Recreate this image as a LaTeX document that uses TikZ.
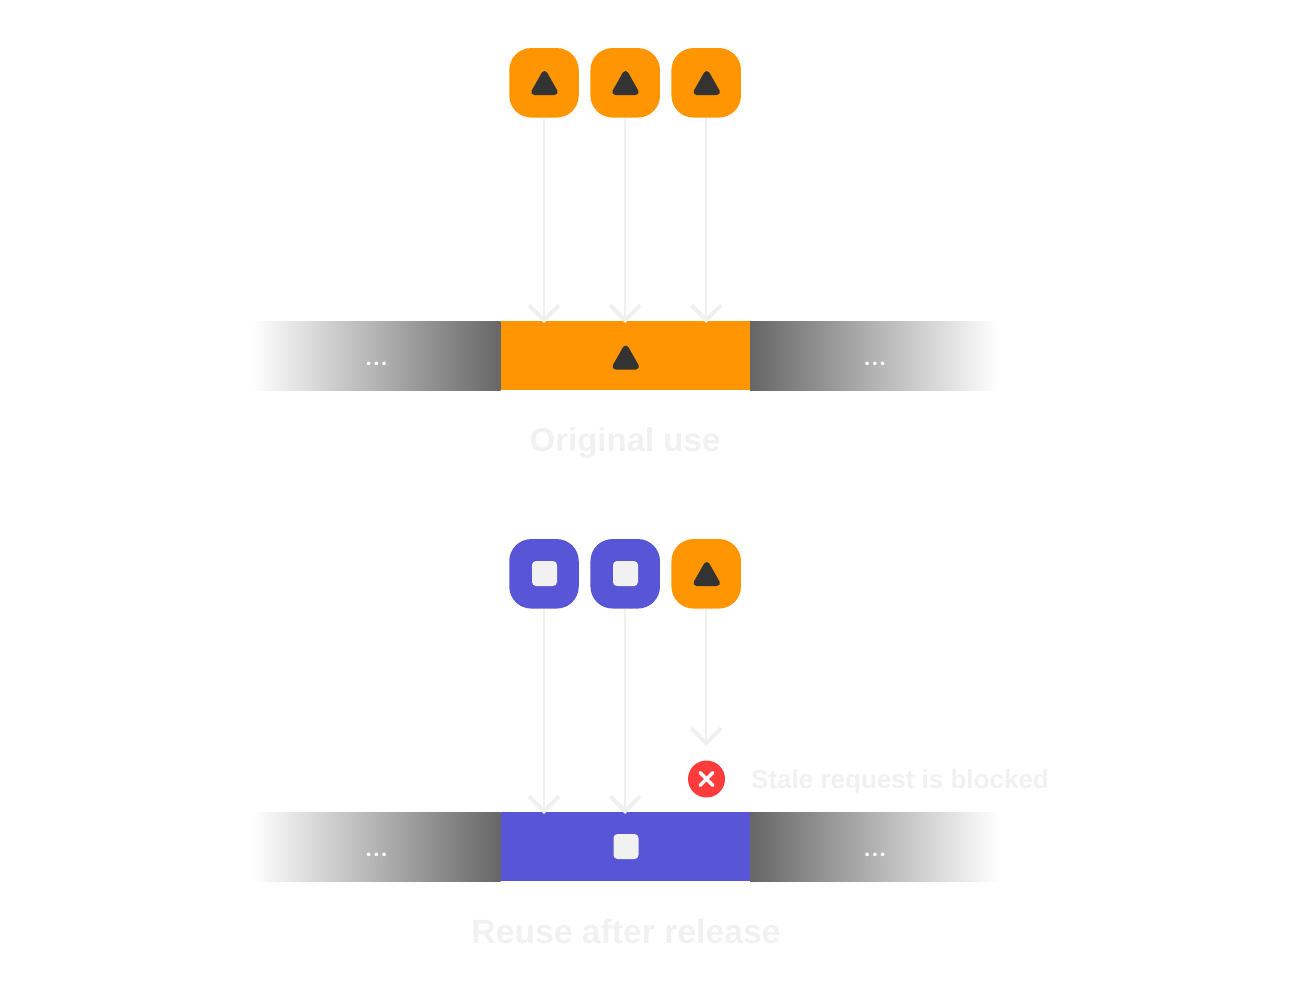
\documentclass[tikz,border=0pt]{standalone}
\usepackage{fontspec}
\setmainfont{Liberation Sans}
\newfontfamily\dotfont{Lato}
\usetikzlibrary{arrows.meta}
\definecolor{amber}{HTML}{FF9500}
\definecolor{indigo}{HTML}{5856D6}
\definecolor{ink}{HTML}{333333}
\definecolor{pale}{HTML}{F1F1F1}
\definecolor{fade}{HTML}{F0F0F0}
\definecolor{stop}{HTML}{FF3B3B}
\definecolor{edge}{HTML}{666666}
\tikzset{
  icon/.style={rectangle,rounded corners=22pt,minimum width=69.5pt,minimum height=69.5pt,inner sep=0pt,fill=#1},
  cell/.style={rectangle,minimum width=249.4pt,minimum height=69pt,inner sep=0pt,fill=#1},
  fadeleft/.style={rectangle,minimum width=248.7pt,minimum height=69pt,inner sep=0pt,shading=axis,left color=white,right color=edge},
  faderight/.style={rectangle,minimum width=248pt,minimum height=69pt,inner sep=0pt,shading=axis,left color=edge,right color=white},
  conn/.style={draw=fade,line width=2.4pt,-{Straight Barb[length=15pt,width=30pt,line width=4pt]}},
  tri/.style={fill=ink,draw=ink,line width=6pt,line join=round},
  sq/.style={rectangle,rounded corners=4pt,fill=pale,inner sep=0pt,minimum width=25pt,minimum height=25pt},
  dots/.style={text=white,font=\dotfont\bfseries\fontsize{24}{24}\selectfont,inner sep=0pt,anchor=base},
  capt/.style={text=pale,font=\bfseries\fontsize{#1}{36}\selectfont,inner sep=0pt},
  note/.style={text=pale,font=\bfseries\fontsize{26}{30}\selectfont,inner sep=0pt,anchor=west},
}
\newcommand{\triglyph}[2]{\path[tri] (#1,#2-9) -- (#1+10.2,#2+9) -- (#1-10.2,#2+9) -- cycle;}
\newcommand{\threedots}{.\kern2pt.\kern2pt.}
\begin{document}
\begin{tikzpicture}[x=1pt,y=-1pt]
\useasboundingbox (0,0) rectangle (1300,989);
% top row
\node[icon=amber] (a1) at (544,82.8) {};
\node[icon=amber] (a2) at (625.2,82.8) {};
\node[icon=amber] (a3) at (706.2,82.8) {};
\triglyph{544.5}{83}
\triglyph{625.5}{83}
\triglyph{706.7}{83}
\node[fadeleft] (la) at (376.3,355.7) {};
\node[faderight] (ra) at (874,355.7) {};
\node[cell=amber] (ma) at (625.3,355.7) {};
\triglyph{625.7}{357.5}
\node[dots] (da1) at (376.5,365) {\threedots};
\node[dots] (da2) at (875,365) {\threedots};
\coordinate (ta1) at (544,323);
\coordinate (ta2) at (625.2,323);
\coordinate (ta3) at (706.2,323);
\draw[conn] (a1) ++(0,35) -- (ta1);
\draw[conn] (a2) ++(0,35) -- (ta2);
\draw[conn] (a3) ++(0,35) -- (ta3);
\node[capt=33] (ca) at (625,443) {Original use};
% bottom row
\node[icon=indigo] (b1) at (544,573.8) {};
\node[icon=indigo] (b2) at (625.2,573.8) {};
\node[icon=amber] (b3) at (706.2,573.8) {};
\node[sq] (s1) at (544.5,573.5) {};
\node[sq] (s2) at (625.5,573.5) {};
\triglyph{706.7}{574}
\node[fadeleft] (lb) at (376.3,846.5) {};
\node[faderight] (rb) at (874,846.5) {};
\node[cell=indigo] (mb) at (625.3,846.5) {};
\node[sq] (s3) at (626,846.5) {};
\node[dots] (db1) at (376.5,856) {\threedots};
\node[dots] (db2) at (875,856) {\threedots};
\node[circle,fill=stop,minimum size=37pt,inner sep=0pt] (x) at (706.5,779) {};
\draw[white,line width=3.4pt,line cap=round] (x.center) ++(-6.5,-6.5) -- ++(13,13);
\draw[white,line width=3.4pt,line cap=round] (x.center) ++(6.5,-6.5) -- ++(-13,13);
\coordinate (tb1) at (544,814);
\coordinate (tb2) at (625.2,814);
\coordinate (tb3) at (706.2,746);
\draw[conn] (b1) ++(0,35) -- (tb1);
\draw[conn] (b2) ++(0,35) -- (tb2);
\draw[conn] (b3) ++(0,35) -- (tb3);
\node[note] (n) at (751,782) {Stale request is blocked};
\node[capt=33.7] (cb) at (626,931) {Reuse after release};
\end{tikzpicture}
\end{document}
